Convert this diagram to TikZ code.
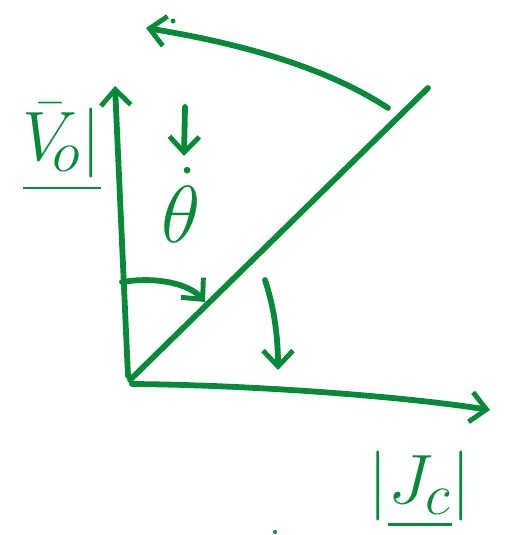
\documentclass[tikz,border=0pt]{standalone}
\usepackage{amsmath, amssymb}
\usepackage{tikz}
\usetikzlibrary{arrows.meta, calc, positioning}
\usepackage{xcolor}
\definecolor{penGreen}{RGB}{6,138,58}

\tikzset{
  pen/.style={draw=penGreen, line width=3.3pt, line cap=round, line join=round},
  penarrow/.style={pen, -{Straight Barb[length=9pt, width=17pt, line width=2.8pt]}},
  penlabel/.style={text=penGreen, inner sep=0pt, font=\Huge, transform shape}
}

\begin{document}
\begin{tikzpicture}[x=0.02cm, y=-0.02cm]
\useasboundingbox (0,0) rectangle (513,535);

% Coordinates
\coordinate (O) at (130,380);
\coordinate (Vbot) at (128,376);
\coordinate (Vtop) at (115,86);
\coordinate (Jbot) at (132,384);
\coordinate (Jend) at (490,410);
\coordinate (D) at (428,88);

% Axes
\draw[penarrow] (Vbot) -- (Vtop);
\draw[penarrow] (Jbot) .. controls (250,385) and (400,396) .. (Jend);

% Diagonal line
\draw[pen] (O) -- (D);

% Big rotation arrow at the top
\coordinate (Rs) at (388,108);
\coordinate (Re) at (146,28);
\draw[penarrow] (Rs) .. controls (330,70) and (250,45) .. (Re);
\fill[penGreen] (173,21) circle (2.5);

% Theta dot and its arrow
\node[penlabel, scale=1.85] (thetadot) at (181,205) {$\dot{\theta}$};
\coordinate (Ts) at (185,107);
\coordinate (Te) at (184,156);
\draw[penarrow] (Ts) -- (Te);

% Angle arrow from the vertical axis to the diagonal
\coordinate (As) at (122,282);
\coordinate (Ae) at (205,302);
\draw[penarrow] (As) .. controls (160,276) and (190,285) .. (Ae);

% Arrow down from the diagonal
\coordinate (Ds) at (265,280);
\coordinate (De) at (278,370);
\draw[penarrow] (Ds) .. controls (275,310) and (278,340) .. (De);

% Axis labels
\node[penlabel, scale=1.6] (Vlabel) at (62,148) {$\underline{\bar{V}_{\!o}|}$};
\node[penlabel, scale=1.6] (Jlabel) at (420,490) {$|\underline{J_c}|$};
\fill[penGreen] (275,532) circle (2);
\end{tikzpicture}
\end{document}
